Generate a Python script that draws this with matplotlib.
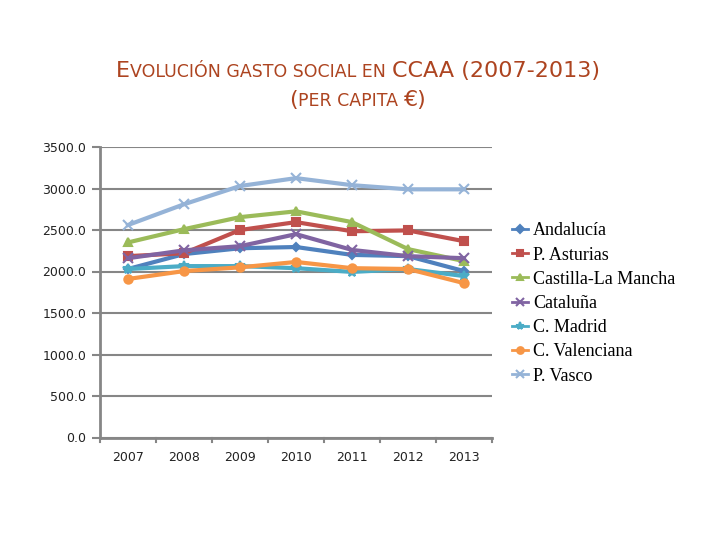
import matplotlib
matplotlib.use("Agg")
import matplotlib.pyplot as plt

years = ["2007", "2008", "2009", "2010", "2011", "2012", "2013"]
regions = ["Andalucía", "P. Asturias", "Castilla-La Mancha", "Cataluña",
           "C. Madrid", "C. Valenciana", "P. Vasco"]
andalucia = [2030, 2210, 2280, 2295, 2200, 2185, 2005]
asturias = [2185, 2220, 2500, 2595, 2485, 2495, 2365]
castilla = [2350, 2510, 2655, 2725, 2595, 2270, 2125]
cataluna = [2160, 2255, 2305, 2450, 2260, 2185, 2160]
madrid = [2030, 2065, 2065, 2040, 1995, 2030, 1945]
valenciana = [1910, 2005, 2050, 2115, 2040, 2030, 1860]
vasco = [2560, 2810, 3030, 3125, 3040, 2990, 2990]
series = [andalucia, asturias, castilla, cataluna, madrid, valenciana, vasco]

colors = ["#4F81BD", "#C0504D", "#9BBB59", "#8064A2", "#4BACC6", "#F79646", "#95B3D7"]
markers = ["D", "s", "^", "x", "*", "o", "x"]
msizes = [4.5, 6, 6, 7, 7, 6, 7]

fig = plt.figure(figsize=(7.2, 5.4), dpi=100)
ax = fig.add_axes([100 / 720, 1 - 437.5 / 540, 392 / 720, 290.5 / 540])

x = range(len(years))
for name, vals, c, m, ms in zip(regions, series, colors, markers, msizes):
    ax.plot(x, vals, color=c, lw=3, marker=m, ms=ms, mew=1.5, label=name)

ax.set_xlim(-0.5, len(years) - 0.5)
ax.set_ylim(0, 3500)
ax.set_yticks(range(0, 3501, 500))
ax.set_yticklabels([f"{v:.1f}" for v in range(0, 3501, 500)])
ax.set_xticks(x)
ax.set_xticklabels(years)
ax.yaxis.grid(True, color="#868686", lw=1.5)
ax.set_axisbelow(True)
for s in ["top", "right"]:
    ax.spines[s].set_visible(False)
for s in ["left", "bottom"]:
    ax.spines[s].set_color("#868686")
    ax.spines[s].set_linewidth(2)
ax.tick_params(axis="y", length=6, width=1.5, color="#868686", labelsize=9,
               labelcolor="#222222", pad=4)
ax.tick_params(axis="x", length=0, labelsize=9, labelcolor="#222222", pad=10)
# category boundary ticks on x axis
for b in range(len(years) + 1):
    ax.plot([b - 0.5, b - 0.5], [0, -60], color="#868686", lw=1.5, clip_on=False)

leg = ax.legend(loc="center left", bbox_to_anchor=(412 / 392, (437.5 - 303.5) / 290.5),
                frameon=False,
                prop={"family": "Liberation Serif", "size": 13},
                handlelength=0.9, handletextpad=0.28, labelspacing=0.4,
                borderaxespad=0.0, borderpad=0.0)
for ln in leg.get_lines():
    ln.set_linewidth(2)
    ln.set_markersize(ln.get_markersize() * 0.8)

# title with small caps
title_color = "#AD4420"
big, small = 16, 12.5
renderer = fig.canvas.get_renderer()


def small_caps_line(parts, cy):
    texts = []
    for s, sz in parts:
        t = fig.text(0, cy / 540, s, fontsize=sz, color=title_color, va="baseline",
                     family="DejaVu Sans")
        texts.append(t)
    widths = [t.get_window_extent(renderer).width for t in texts]
    total = sum(widths)
    start = 358 - total / 2
    for t, w in zip(texts, widths):
        t.set_x(start / 720)
        start += w


small_caps_line([("E", big), ("VOLUCIÓN GASTO SOCIAL EN ", small),
                 ("CCAA (2007-2013)", big)], 540 - 77)
small_caps_line([("(", big), ("PER CAPITA ", small), ("€)", big)], 540 - 106)

fig.savefig("out.png", dpi=100)
